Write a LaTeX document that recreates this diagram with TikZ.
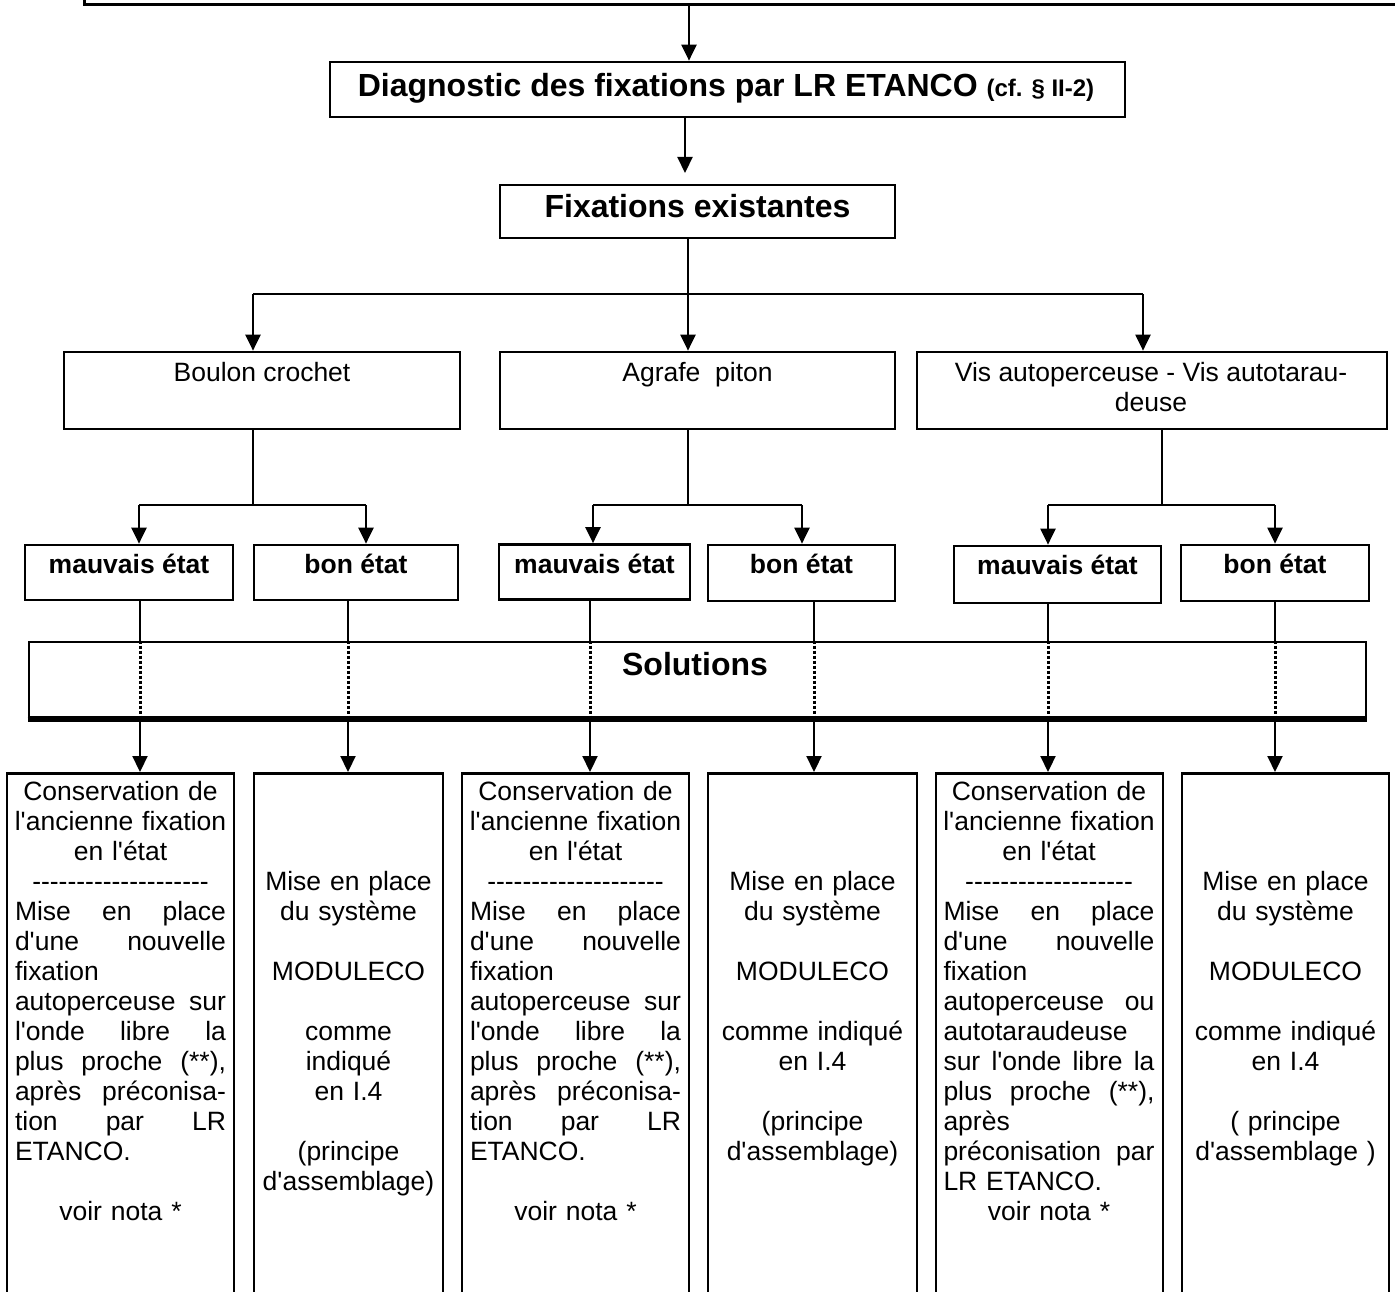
\documentclass[tikz,border=0pt]{standalone}
\usepackage{fontspec}
\newfontfamily\af{Liberation Sans}
\usetikzlibrary{arrows.meta}
\newcommand\stt{\rule[-9pt]{0pt}{30pt}}
\newcommand\lcn[1]{\makebox[\linewidth][c]{\stt#1}}
\newcommand\ljs[1]{\makebox[\linewidth][s]{\stt#1}}
\newcommand\llf[1]{\makebox[\linewidth][l]{\stt#1}}
\tikzset{
 bx/.style={draw, line width=2.7pt, rectangle, inner sep=0pt},
 conn/.style={line width=2.2pt},
 thinc/.style={line width=1.5pt},
 arr/.style={line width=2.2pt, -{Triangle[length=16pt,width=15pt]}},
 dotl/.style={line width=3pt, dash pattern=on 3pt off 2pt},
 reg/.style={font=\af\fontsize{26.5pt}{30pt}\selectfont, inner sep=0pt},
 bld/.style={font=\af\bfseries\fontsize{26.5pt}{30pt}\selectfont, inner sep=0pt},
 ttl/.style={font=\af\bfseries\fontsize{32pt}{36pt}\selectfont, inner sep=0pt},
 btxt/.style={reg, anchor=north, align=left},
}
\begin{document}
\begin{tikzpicture}[x=1pt,y=-1pt]
\useasboundingbox (0,0) rectangle (1395,1292);
% ---------- boxes
\node[bx, anchor=south west, minimum width=1400pt, minimum height=60pt] (topbox) at (83,6) {};
\node[bx, minimum width=795pt, minimum height=55pt] (diag) at (727.5,89.5) {};
\node[bx, minimum width=395pt, minimum height=53pt] (fix) at (697.5,211.5) {};
\node[bx, minimum width=396pt, minimum height=77pt] (bou) at (262,390.5) {};
\node[bx, minimum width=395pt, minimum height=77pt] (agr) at (697.5,390.5) {};
\node[bx, minimum width=470pt, minimum height=77pt] (vis) at (1152,390.5) {};
\node[bx, minimum width=208pt, minimum height=55pt] (m1) at (129,572.5) {};
\node[bx, minimum width=204pt, minimum height=55pt] (b1) at (356,572.5) {};
\node[bx, minimum width=191pt, minimum height=55pt] (m2) at (594.5,572) {};
\node[bx, minimum width=187pt, minimum height=56pt] (b2) at (801.5,573) {};
\node[bx, minimum width=207pt, minimum height=57pt] (m3) at (1057.5,574.5) {};
\node[bx, minimum width=188pt, minimum height=56pt] (b3) at (1275,573) {};
\node[bx, minimum width=1337pt, minimum height=75pt] (sol) at (697.5,679.5) {};
\draw[line width=4.5pt] ([yshift=-1pt]sol.south west) -- ([yshift=-1pt]sol.south east);
\node[bx, anchor=north, minimum width=227pt, minimum height=600pt] (s1) at (120.5,772) {};
\node[bx, anchor=north, minimum width=189pt, minimum height=600pt] (s2) at (348.5,772) {};
\node[bx, anchor=north, minimum width=227pt, minimum height=600pt] (s3) at (575.5,772) {};
\node[bx, anchor=north, minimum width=209pt, minimum height=600pt] (s4) at (812.5,772) {};
\node[bx, anchor=north, minimum width=227pt, minimum height=600pt] (s5) at (1049.5,772) {};
\node[bx, anchor=north, minimum width=207pt, minimum height=600pt] (s6) at (1285.5,772) {};
% ---------- connectors
\coordinate (ka) at (689,0);
\draw[arr] (topbox.south -| ka) -- (diag.north -| ka);
\coordinate (kb) at (685,0);
\coordinate (kbend) at (685,173);
\draw[arr] (diag.south -| kb) -- (kbend);
\coordinate (br) at (688,294);
\coordinate (bl) at (253,294);
\coordinate (brr) at (1143,294);
\draw[thinc] (fix.south -| br) -- (br);
\draw[conn] (bl) -- (brr);
\draw[arr] (bl) -- (bou.north -| bl);
\draw[arr] (br) -- (agr.north -| br);
\draw[arr] (brr) -- (vis.north -| brr);
\foreach \p/\l/\r/\jx/\jl/\jr in {bou/m1/b1/253/139/366, agr/m2/b2/688/593/802, vis/m3/b3/1162/1048/1275}{
  \coordinate (j) at (\jx,505);
  \coordinate (jl) at (\jl,505);
  \coordinate (jr) at (\jr,505);
  \draw[thinc] (\p.south -| j) -- (j);
  \draw[conn] (jl) -- (jr);
  \draw[arr] (jl) -- (\l.north -| jl);
  \draw[arr] (jr) -- (\r.north -| jr);
}
\foreach \a/\b/\x in {m1/s1/140, b1/s2/348, m2/s3/590, b2/s4/814, m3/s5/1048, b3/s6/1275}{
  \coordinate (d) at (\x,0);
  \draw[conn] (\a.south -| d) -- (sol.north -| d);
  \draw[dotl] (sol.north -| d) -- (sol.south -| d);
  \draw[arr] (sol.south -| d) -- (\b.north -| d);
}
% ---------- texts
\node[ttl, anchor=base] (tdiag) at (726,97) {Diagnostic des fixations par LR ETANCO {\fontsize{24pt}{28pt}\selectfont (cf. § II-2)}};
\node[ttl, anchor=base] (tfix) at (697.5,218) {Fixations existantes};
\node[reg, anchor=base] (tbou) at (262,381) {Boulon crochet};
\node[reg, anchor=base] (tagr) at (697.5,381) {Agrafe\ \ piton};
\node[reg, anchor=north, align=center] (tvis) at (1151,360) {\stt Vis autoperceuse - Vis autotarau-\\\stt deuse};
\node[bld, anchor=base] (tm1) at (129,573) {mauvais état};
\node[bld, anchor=base] (tb1) at (356,573) {bon état};
\node[bld, anchor=base] (tm2) at (594.5,573) {mauvais état};
\node[bld, anchor=base] (tb2) at (801.5,573) {bon état};
\node[bld, anchor=base] (tm3) at (1057.5,574) {mauvais état};
\node[bld, anchor=base] (tb3) at (1275,573) {bon état};
\node[ttl, anchor=base] (tsol) at (695,675) {Solutions};
% bottom texts
\node[btxt, text width=211pt] (t1) at (120.5,779) {%
\lcn{Conservation de}\\
\lcn{l'ancienne fixation}\\
\lcn{en l'état}\\
\lcn{--------------------}\\
\ljs{Mise\hfill en\hfill place}\\
\ljs{d'une\hfill nouvelle}\\
\llf{fixation}\\
\ljs{autoperceuse\hfill sur}\\
\ljs{l'onde\hfill libre\hfill la}\\
\ljs{plus\hfill proche\hfill (**),}\\
\ljs{après\hfill préconisa-}\\
\ljs{tion\hfill par\hfill LR}\\
\llf{ETANCO.}\\
\lcn{}\\
\lcn{voir nota *}};
\node[btxt, text width=177pt] (t2) at (348.5,779) {%
\lcn{}\\ \lcn{}\\ \lcn{}\\
\lcn{Mise en place}\\
\lcn{du système}\\
\lcn{}\\
\lcn{MODULECO}\\
\lcn{}\\
\lcn{comme}\\
\lcn{indiqué}\\
\lcn{en I.4}\\
\lcn{}\\
\lcn{(principe}\\
\lcn{d'assemblage)}};
\node[btxt, text width=211pt] (t3) at (575.5,779) {%
\lcn{Conservation de}\\
\lcn{l'ancienne fixation}\\
\lcn{en l'état}\\
\lcn{--------------------}\\
\ljs{Mise\hfill en\hfill place}\\
\ljs{d'une\hfill nouvelle}\\
\llf{fixation}\\
\ljs{autoperceuse\hfill sur}\\
\ljs{l'onde\hfill libre\hfill la}\\
\ljs{plus\hfill proche\hfill (**),}\\
\ljs{après\hfill préconisa-}\\
\ljs{tion\hfill par\hfill LR}\\
\llf{ETANCO.}\\
\lcn{}\\
\lcn{voir nota *}};
\node[btxt, text width=197pt] (t4) at (812.5,779) {%
\lcn{}\\ \lcn{}\\ \lcn{}\\
\lcn{Mise en place}\\
\lcn{du système}\\
\lcn{}\\
\lcn{MODULECO}\\
\lcn{}\\
\lcn{comme indiqué}\\
\lcn{en I.4}\\
\lcn{}\\
\lcn{(principe}\\
\lcn{d'assemblage)}};
\node[btxt, text width=211pt] (t5) at (1049,779) {%
\lcn{Conservation de}\\
\lcn{l'ancienne fixation}\\
\lcn{en l'état}\\
\lcn{-------------------}\\
\ljs{Mise\hfill en\hfill place}\\
\ljs{d'une\hfill nouvelle}\\
\llf{fixation}\\
\ljs{autoperceuse\hfill ou}\\
\llf{autotaraudeuse}\\
\ljs{sur\hfill l'onde\hfill libre\hfill la}\\
\ljs{plus\hfill proche\hfill (**),}\\
\llf{après}\\
\ljs{préconisation\hfill par}\\
\llf{LR ETANCO.}\\
\lcn{voir nota *}};
\node[btxt, text width=195pt] (t6) at (1285.5,779) {%
\lcn{}\\ \lcn{}\\ \lcn{}\\
\lcn{Mise en place}\\
\lcn{du système}\\
\lcn{}\\
\lcn{MODULECO}\\
\lcn{}\\
\lcn{comme indiqué}\\
\lcn{en I.4}\\
\lcn{}\\
\lcn{( principe}\\
\lcn{d'assemblage )}};
\end{tikzpicture}
\end{document}
